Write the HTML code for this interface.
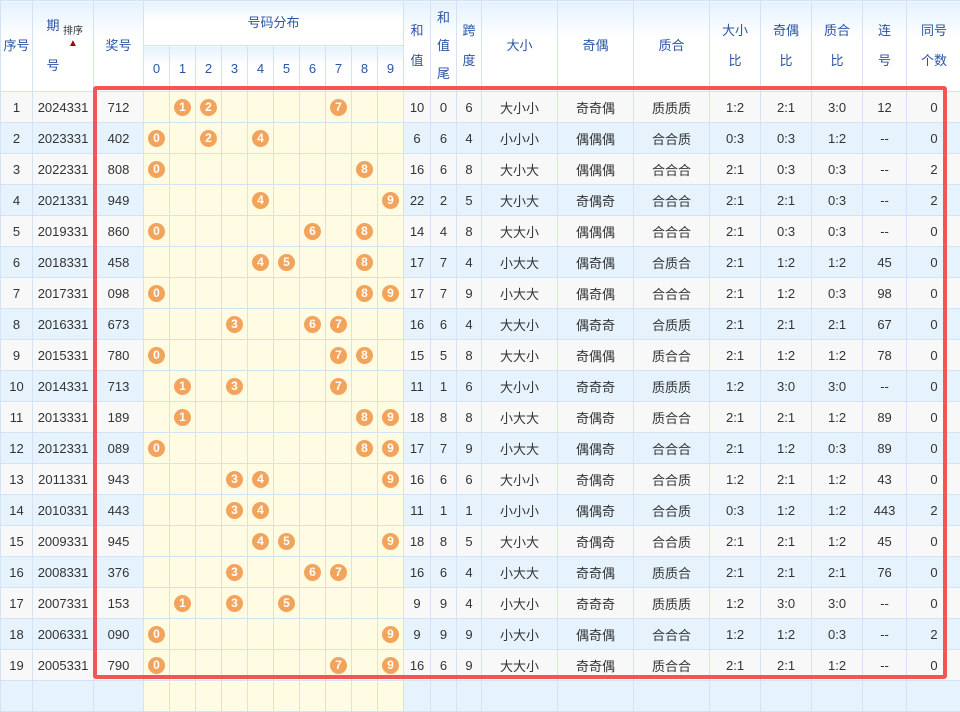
<!DOCTYPE html>
<html><head><meta charset="utf-8"><style>
body{margin:0;width:960px;height:685px;overflow:hidden;background:#fff;font-family:"Liberation Sans","Noto Sans CJK SC",sans-serif;}
table{position:absolute;left:0;top:0;border-collapse:collapse;table-layout:fixed;width:961px;}
td,th{border:1px solid #d3e3f3;text-align:center;padding:0;font-size:13px;color:#333;font-weight:normal;}
th{color:#2a55a5;background:linear-gradient(#e4f2fd,#fff 40%);font-size:13px;line-height:22px;}
tr.h1 th{height:44px;}
tr.h2 th{height:45px;}
tr.d td{height:30px;}
tr.o td{background:#f8f8f8;}
tr.e td{background:#e6f3fd;}
tr.d td.z{background:#fffce3;}
.b{display:inline-block;width:17px;height:17px;border-radius:50%;background:#f2a45c;color:#fff;font-weight:bold;font-size:12px;line-height:17px;vertical-align:middle;}
#box{position:absolute;left:93px;top:86px;width:846px;height:585px;border:4px solid #f25555;border-radius:3px;}
</style></head><body>
<table>
<colgroup><col style="width:32px"><col style="width:61px"><col style="width:50px"><col style="width:26px"><col style="width:26px"><col style="width:26px"><col style="width:26px"><col style="width:26px"><col style="width:26px"><col style="width:26px"><col style="width:26px"><col style="width:26px"><col style="width:26px"><col style="width:27px"><col style="width:26px"><col style="width:25px"><col style="width:76px"><col style="width:76px"><col style="width:76px"><col style="width:51px"><col style="width:51px"><col style="width:51px"><col style="width:44px"><col style="width:55px"></colgroup>
<tr class="h1"><th rowspan="2">序号</th><th rowspan="2"><span style="display:inline-block;width:20px;line-height:40px">期 号</span><span style="display:inline-block;vertical-align:top;margin-top:20px;font-size:10px;line-height:12px;color:#333">排序<br><span style="color:#a00">▲</span></span></th><th rowspan="2">奖号</th><th colspan="10">号码分布</th><th rowspan="2" style="line-height:30px">和<br>值</th><th rowspan="2" style="line-height:28px">和<br>值<br>尾</th><th rowspan="2" style="line-height:30px">跨<br>度</th><th rowspan="2">大小</th><th rowspan="2">奇偶</th><th rowspan="2">质合</th><th rowspan="2" style="line-height:30px">大小<br>比</th><th rowspan="2" style="line-height:30px">奇偶<br>比</th><th rowspan="2" style="line-height:30px">质合<br>比</th><th rowspan="2" style="line-height:30px">连<br>号</th><th rowspan="2" style="line-height:30px">同号<br>个数</th></tr>
<tr class="h2"><th>0</th><th>1</th><th>2</th><th>3</th><th>4</th><th>5</th><th>6</th><th>7</th><th>8</th><th>9</th></tr>
<tbody id="tb"></tbody>
</table>
<div id="box"></div>
<script>
var R=[
["2024331","712",10,0,6,"大小小","奇奇偶","质质质","1:2","2:1","3:0","12",0],
["2023331","402",6,6,4,"小小小","偶偶偶","合合质","0:3","0:3","1:2","--",0],
["2022331","808",16,6,8,"大小大","偶偶偶","合合合","2:1","0:3","0:3","--",2],
["2021331","949",22,2,5,"大小大","奇偶奇","合合合","2:1","2:1","0:3","--",2],
["2019331","860",14,4,8,"大大小","偶偶偶","合合合","2:1","0:3","0:3","--",0],
["2018331","458",17,7,4,"小大大","偶奇偶","合质合","2:1","1:2","1:2","45",0],
["2017331","098",17,7,9,"小大大","偶奇偶","合合合","2:1","1:2","0:3","98",0],
["2016331","673",16,6,4,"大大小","偶奇奇","合质质","2:1","2:1","2:1","67",0],
["2015331","780",15,5,8,"大大小","奇偶偶","质合合","2:1","1:2","1:2","78",0],
["2014331","713",11,1,6,"大小小","奇奇奇","质质质","1:2","3:0","3:0","--",0],
["2013331","189",18,8,8,"小大大","奇偶奇","质合合","2:1","2:1","1:2","89",0],
["2012331","089",17,7,9,"小大大","偶偶奇","合合合","2:1","1:2","0:3","89",0],
["2011331","943",16,6,6,"大小小","奇偶奇","合合质","1:2","2:1","1:2","43",0],
["2010331","443",11,1,1,"小小小","偶偶奇","合合质","0:3","1:2","1:2","443",2],
["2009331","945",18,8,5,"大小大","奇偶奇","合合质","2:1","2:1","1:2","45",0],
["2008331","376",16,6,4,"小大大","奇奇偶","质质合","2:1","2:1","2:1","76",0],
["2007331","153",9,9,4,"小大小","奇奇奇","质质质","1:2","3:0","3:0","--",0],
["2006331","090",9,9,9,"小大小","偶奇偶","合合合","1:2","1:2","0:3","--",2],
["2005331","790",16,6,9,"大大小","奇奇偶","质合合","2:1","2:1","1:2","--",0]];
var h="";
R.forEach(function(r,i){
 h+='<tr class="d '+(i%2?'e':'o')+'"><td>'+(i+1)+'</td><td>'+r[0]+'</td><td>'+r[1]+'</td>';
 for(var d=0;d<10;d++){h+='<td class="z">'+(r[1].indexOf(String(d))>=0?'<span class="b">'+d+'</span>':'')+'</td>';}
 for(var k=2;k<13;k++)h+='<td>'+r[k]+'</td>';
 h+='</tr>';
});
h+='<tr class="d e"><td></td><td></td><td></td>';for(var d=0;d<10;d++)h+='<td class="z"></td>';for(var k=0;k<11;k++)h+='<td></td>';h+='</tr>';
document.getElementById('tb').innerHTML=h;
</script>
</body></html>
